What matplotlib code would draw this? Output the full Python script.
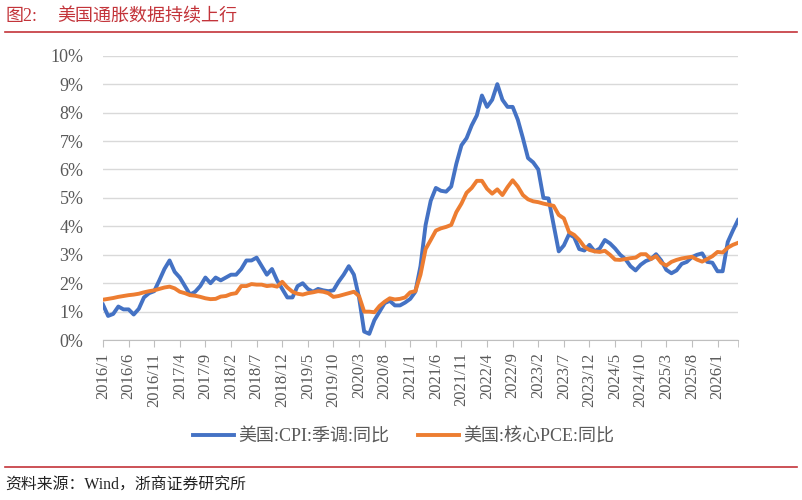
import matplotlib
matplotlib.use("Agg")
import matplotlib.pyplot as plt
from matplotlib.ticker import FuncFormatter, FixedLocator

plt.rcParams['font.family'] = ['Liberation Serif', 'Noto Sans CJK SC']

# monthly, 2016/1 .. 2026/5
cpi = [
    1.25, 0.85, 0.92, 1.18, 1.08, 1.08, 0.90, 1.10, 1.50, 1.65, 1.72, 2.10,   # 2016
    2.50, 2.80, 2.40, 2.20, 1.90, 1.60, 1.70, 1.90, 2.20, 2.00, 2.20, 2.10,   # 2017
    2.20, 2.30, 2.30, 2.50, 2.80, 2.80, 2.90, 2.60, 2.30, 2.50, 2.10, 1.80,   # 2018
    1.50, 1.50, 1.90, 2.00, 1.80, 1.70, 1.80, 1.75, 1.72, 1.75, 2.05, 2.30,   # 2019
    2.60, 2.30, 1.50, 0.30, 0.22, 0.70, 1.00, 1.30, 1.38, 1.22, 1.22, 1.32,   # 2020
    1.45, 1.70, 2.60, 4.05, 4.90, 5.35, 5.25, 5.22, 5.40, 6.20, 6.85, 7.10,   # 2021
    7.55, 7.90, 8.60, 8.20, 8.45, 9.00, 8.45, 8.20, 8.20, 7.75, 7.10, 6.40,   # 2022
    6.25, 6.00, 5.00, 4.98, 4.05, 3.12, 3.33, 3.72, 3.62, 3.20, 3.15, 3.35,   # 2023
    3.12, 3.22, 3.52, 3.40, 3.22, 3.00, 2.85, 2.60, 2.45, 2.65, 2.78, 2.85,   # 2024
    3.02, 2.80, 2.47, 2.35, 2.45, 2.68, 2.75, 2.92, 3.00, 3.05, 2.75, 2.72,   # 2025
    2.42, 2.42, 3.45, 3.85, 4.22,                                           # 2026
]
core_pce = [
    1.42, 1.45, 1.48, 1.52, 1.55, 1.58, 1.60, 1.63, 1.68, 1.72, 1.75, 1.80,   # 2016
    1.85, 1.88, 1.82, 1.70, 1.65, 1.58, 1.56, 1.52, 1.47, 1.44, 1.45, 1.53,   # 2017
    1.55, 1.62, 1.65, 1.90, 1.90, 1.97, 1.95, 1.95, 1.90, 1.92, 1.88, 2.05,   # 2018
    1.85, 1.70, 1.63, 1.60, 1.65, 1.68, 1.72, 1.70, 1.65, 1.52, 1.55, 1.60,   # 2019
    1.65, 1.70, 1.55, 1.00, 1.00, 0.98, 1.20, 1.35, 1.47, 1.43, 1.45, 1.50,   # 2020
    1.68, 1.72, 2.30, 3.20, 3.52, 3.85, 3.93, 3.98, 4.05, 4.50, 4.80, 5.18,   # 2021
    5.35, 5.60, 5.60, 5.32, 5.15, 5.30, 5.10, 5.38, 5.62, 5.40, 5.10, 4.95,   # 2022
    4.88, 4.85, 4.80, 4.76, 4.72, 4.40, 4.28, 3.80, 3.70, 3.52, 3.28, 3.17,   # 2023
    3.12, 3.10, 3.14, 3.00, 2.83, 2.82, 2.85, 2.88, 2.90, 3.02, 3.02, 2.85,   # 2024
    2.95, 2.72, 2.62, 2.75, 2.82, 2.87, 2.90, 2.93, 2.83, 2.76, 2.85, 2.95,   # 2025
    3.10, 3.08, 3.25, 3.35, 3.42,                                           # 2026
]
months = [f"{2016 + i // 12}/{i % 12 + 1}" for i in range(len(cpi))]

red = '#C3343A'
gray = '#595959'

fig = plt.figure(figsize=(8.02, 5.0), dpi=100)
ax = fig.add_axes([0.1284, 0.3198, 0.7918, 0.5688])

x = list(range(len(cpi)))
ax.plot(x, cpi, color='#4472C4', lw=2.8, label='美国:CPI:季调:同比', solid_joinstyle='round')
ax.plot(x, core_pce, color='#ED7D31', lw=2.8, label='美国:核心PCE:同比', solid_joinstyle='round')

ax.set_xlim(0, len(cpi) - 1)
ax.set_ylim(0, 10)
ax.set_yticks(range(0, 11))
ax.yaxis.set_major_formatter(FuncFormatter(lambda v, p: f"{int(v)}%"))
ax.grid(axis='y', color='#D9D9D9', lw=1)
ax.set_axisbelow(True)

tick_pos = list(range(0, len(cpi), 5))
ax.set_xticks(tick_pos)
ax.set_xticklabels([months[i] for i in tick_pos], rotation=90)
ax.xaxis.set_minor_locator(FixedLocator([len(cpi) - 1]))
ax.tick_params(axis='x', which='both', length=5, color='#BFBFBF', labelsize=12, labelcolor=gray, pad=4)
ax.tick_params(axis='y', length=0, labelsize=13, labelcolor=gray, pad=14)

for s in ['top', 'right', 'left']:
    ax.spines[s].set_visible(False)
ax.spines['bottom'].set_color('#BFBFBF')

fig.legend(loc='center', bbox_to_anchor=(0.503, 0.126), ncol=2, frameon=False,
           fontsize=13, handlelength=2.3, columnspacing=1.6, handletextpad=0.2,
           labelcolor=gray)

# title and source
fig.text(0.007, 0.968, '图2:', color=red, fontsize=13, va='center', ha='left')
fig.text(0.071, 0.968, '美国通胀数据持续上行', color=red, fontsize=13, va='center', ha='left')
fig.add_artist(plt.Line2D([0.006, 0.994], [0.937, 0.937], color=red, lw=1.2))
fig.add_artist(plt.Line2D([0.006, 0.994], [0.066, 0.066], color=red, lw=1.2))
fig.text(0.007, 0.028, '资料来源：Wind，浙商证券研究所', color='#222222', fontsize=11.4, va='center', ha='left')

fig.savefig('out.png', dpi=100)
